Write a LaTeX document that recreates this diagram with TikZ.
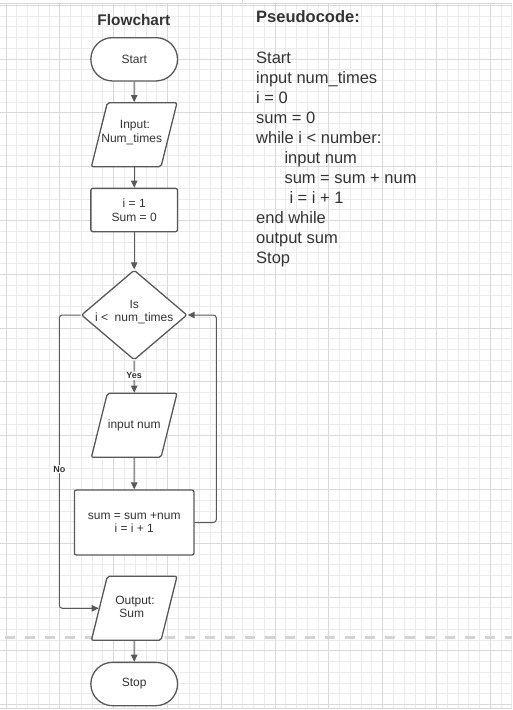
\documentclass[tikz,border=0pt]{standalone}
\usepackage{fontspec}
\setmainfont{Liberation Sans}
\usetikzlibrary{shapes.geometric,arrows.meta}
\definecolor{ink}{HTML}{333333}
\definecolor{edge}{HTML}{595959}
\definecolor{gridminor}{HTML}{EBEBEB}
\definecolor{gridmajor}{HTML}{D9D9D9}
\definecolor{pagebreak}{HTML}{D4D4D4}
\tikzstyle{chartnode}=[draw=edge, fill=white, line width=1.3pt, text=ink, align=center, inner sep=0pt, font=\fontsize{12}{13.5}\selectfont]
\tikzstyle{chartlabel}=[text=ink, align=center, inner sep=0pt, font=\fontsize{12}{13.5}\selectfont]
\tikzstyle{term}=[chartnode, rectangle, rounded corners=21.6pt, minimum width=86.7pt, minimum height=43.3pt]
\tikzstyle{box}=[chartnode, rectangle, rounded corners=2pt]
\tikzstyle{io}=[chartnode, trapezium, trapezium left angle=76, trapezium right angle=104, text width=53.7pt, text height=32pt, text depth=32pt, rounded corners=2pt]
\tikzstyle{decision}=[chartnode, diamond, minimum width=105.7pt, minimum height=90pt, rounded corners=2pt]
\tikzstyle{conn}=[draw=edge, line width=1pt, rounded corners=3pt, -{Triangle[length=7pt,width=6.5pt]}]
\tikzstyle{lab}=[fill=white, text=ink, inner sep=1pt, font=\fontsize{9}{9}\selectfont\bfseries]
\tikzstyle{annot}=[anchor=base west, text=ink, inner sep=0pt, font=\fontsize{16.5}{16.5}\selectfont]
\begin{document}
\begin{tikzpicture}[x=1pt,y=-1pt]
	\useasboundingbox (0,0) rectangle (512,710);

	% grid
	\foreach \i in {0,...,47}
		\draw[gridminor, line width=0.9pt] ({6.1+10.76*\i},4) -- ({6.1+10.76*\i},708.7);
	\foreach \j in {0,...,65}
		\draw[gridminor, line width=0.9pt] (0,{5.3+10.76*\j}) -- (512,{5.3+10.76*\j});
	\foreach \i in {0,...,9}
		\draw[gridmajor, line width=0.9pt] ({6.1+53.8*\i},4) -- ({6.1+53.8*\i},708.7);
	\foreach \j in {0,...,13}
		\draw[gridmajor, line width=0.9pt] (0,{5.3+53.8*\j}) -- (512,{5.3+53.8*\j});
	\draw[gridmajor, line width=0.9pt] (0,3.5) -- (512,3.5) (0,708.7) -- (512,708.7) (242.7,0) -- (242.7,3.5);
	\draw[pagebreak, line width=3pt, dash pattern=on 10pt off 10pt] (5,637.3) -- (512,637.3);

	% flowchart
	\node[anchor=base, text=ink, inner sep=0pt, font=\fontsize{15.4}{15.4}\selectfont\bfseries] (fctitle) at (133.8,25) {Flowchart};
	\node[term] (start) at (134.2,59.3) {Start};
	\node[io, label={[chartlabel, yshift=2pt]center:{\hspace*{1.5pt}Input:\\Num\_times\hspace*{5pt}}}] (in1) at (134.2,134.7) {};
	\node[box, minimum width=86.7pt, minimum height=43.3pt] (init) at (134.2,210) {i = 1\\Sum = 0};
	\node[decision, label={[chartlabel, yshift=3pt]center:{Is\\i < \ num\_times}}] (cond) at (134.2,315) {};
	\node[io, label={[chartlabel]center:{input num}}] (innum) at (134.2,425.3) {};
	\node[box, minimum width=119.6pt, minimum height=65pt] (upd) at (134.2,522.5) {sum = sum +num\\i = i + 1};
	\node[io, label={[chartlabel, yshift=1.5pt]center:{\hspace*{1.5pt}Output:\\Sum\hspace*{5pt}}}] (out) at (134.2,608.3) {};
	\node[term] (stop) at (134.2,684) {Stop};

	\draw[conn] (start) -- (in1);
	\draw[conn] (in1) -- (init);
	\draw[conn] (init) -- (cond);
	\draw[conn] (cond) -- node[lab, pos=0.47]{Yes} (innum);
	\draw[conn] (innum) -- (upd);
	\draw[conn] (upd.east) -- ++(21.7,0) |- (cond.east);
	\draw[conn] (cond.west) -- ++(-21.4,0) |- node[lab, pos=0.263]{No} (out.west);
	\draw[conn] (out) -- (stop);

	% pseudocode
	\node[annot, font=\fontsize{16.5}{16.5}\selectfont\bfseries] (pctitle) at (256,22.7) {Pseudocode:};
	\node[annot] (pc1) at (256,63.3) {Start};
	\node[annot] (pc2) at (256,83.3) {input num\_times};
	\node[annot] (pc3) at (256,103.3) {i = 0};
	\node[annot] (pc4) at (256,123.3) {sum = 0};
	\node[annot] (pc5) at (256,143.3) {while i < number:};
	\node[annot] (pc6) at (284.3,163.3) {input num};
	\node[annot] (pc7) at (284.3,183.3) {sum = sum + num};
	\node[annot] (pc8) at (289.3,203.3) {i = i + 1};
	\node[annot] (pc9) at (256,223.3) {end while};
	\node[annot] (pc10) at (256,243.3) {output sum};
	\node[annot] (pc11) at (256,263.3) {Stop};

\end{tikzpicture}
\end{document}
